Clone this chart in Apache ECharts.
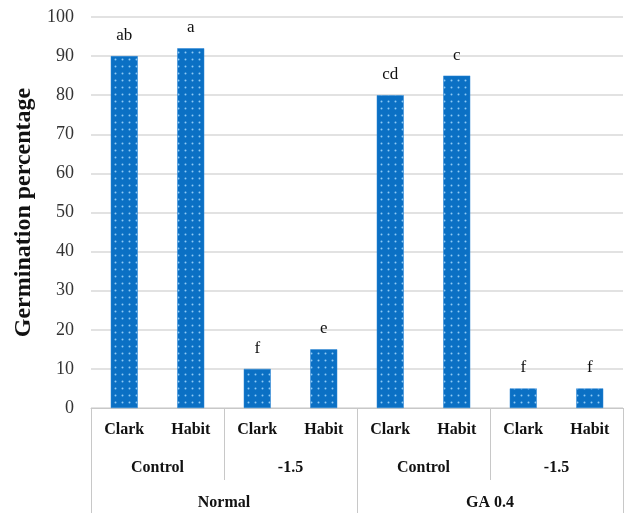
<!DOCTYPE html>
<html>
<head>
<meta charset="utf-8">
<script src="https://cdn.jsdelivr.net/npm/echarts@6/dist/echarts.min.js"></script>
<style>
html,body{margin:0;padding:0;background:#fff;}
#chart{width:627px;height:513px;}
</style>
</head>
<body>
<div id="chart"></div>
<script>
// ---- data ----
const cultivars = ['Clark', 'Habit', 'Clark', 'Habit', 'Clark', 'Habit', 'Clark', 'Habit'];
const stressLevels = ['Control', '-1.5', 'Control', '-1.5'];
const treatments = ['Normal', 'GA 0.4'];
const germination = [90, 92, 10, 15, 80, 85, 5, 5];
const letters = ['ab', 'a', 'f', 'e', 'cd', 'c', 'f', 'f'];
const yTicks = { min: 0, max: 100, interval: 10 };
const yTitle = 'Germination percentage';

// dotted fill pattern
function makePattern() {
  const c = document.createElement('canvas');
  c.width = 7; c.height = 7;
  const g = c.getContext('2d');
  g.fillStyle = '#0b70c4';
  g.fillRect(0, 0, 7, 7);
  g.fillStyle = '#8fcaf5';
  g.beginPath(); g.arc(3.5, 3.5, 1.0, 0, Math.PI * 2); g.fill();
  return c;
}

const chart = echarts.init(document.getElementById('chart'));
const serif = '"Liberation Serif", "Times New Roman", serif';
const boxLine = { show: true, lineStyle: { color: '#c8c8c8', width: 1 } };

chart.setOption({
  animation: false,
  backgroundColor: '#fff',
  grid: { left: 91, right: 4, top: 17, bottom: 105, containLabel: false },
  xAxis: [
    {
      type: 'category', data: cultivars, position: 'bottom',
      axisLine: boxLine, axisTick: { show: false },
      axisLabel: { margin: 14, fontFamily: serif, fontWeight: 'bold', fontSize: 16, color: '#111' }
    },
    {
      type: 'category', data: stressLevels, position: 'bottom', gridIndex: 0,
      axisLine: { show: false },
      axisTick: { show: true, length: 72, lineStyle: { color: '#c8c8c8' } },
      axisLabel: { margin: 52, fontFamily: serif, fontWeight: 'bold', fontSize: 16, color: '#111' }
    },
    {
      type: 'category', data: treatments, position: 'bottom', gridIndex: 0,
      axisLine: { show: false },
      axisTick: { show: true, length: 110, lineStyle: { color: '#c8c8c8' } },
      axisLabel: { margin: 87, fontFamily: serif, fontWeight: 'bold', fontSize: 16, color: '#111' }
    }
  ],
  yAxis: {
    type: 'value', min: yTicks.min, max: yTicks.max, interval: yTicks.interval,
    name: yTitle, nameLocation: 'middle', nameGap: 55,
    nameTextStyle: { fontFamily: serif, fontWeight: 'bold', fontSize: 24, color: '#111' },
    axisLine: { show: false }, axisTick: { show: false },
    axisLabel: { margin: 17, fontFamily: serif, fontSize: 18, color: '#333' },
    splitLine: { lineStyle: { color: '#d9d9d9', width: 1.5 } }
  },
  series: [{
    type: 'bar',
    xAxisIndex: 0,
    data: germination,
    barWidth: 27,
    itemStyle: { color: { image: makePattern(), repeat: 'repeat' }, borderColor: '#2a86d6', borderWidth: 0.5 },
    label: {
      show: true, position: 'top', distance: 12,
      fontFamily: serif, fontSize: 17, color: '#111',
      formatter: p => letters[p.dataIndex]
    }
  }]
});
</script>
</body>
</html>
